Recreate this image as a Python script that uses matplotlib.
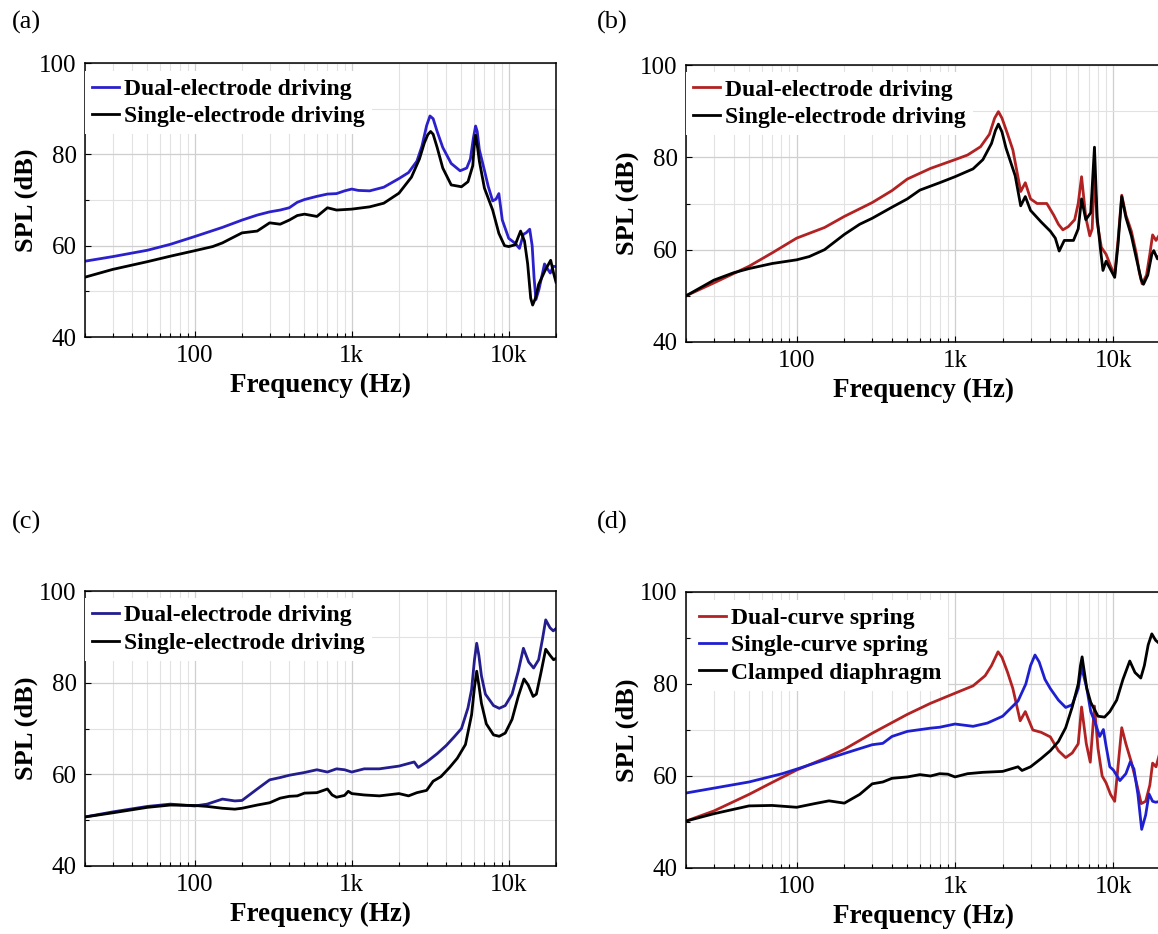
import matplotlib
matplotlib.use("Agg")
import matplotlib.pyplot as plt
from matplotlib.ticker import FixedLocator, NullFormatter

plt.rcParams['font.family'] = ['Liberation Serif', 'DejaVu Serif']

# x tick labels
freq_ticks = [100, 1000, 10000]
freq_labels = ["100", "1k", "10k"]
spl_ticks = [40, 60, 80, 100]

# ---- panel (a) ----
a_dual = [(20, 56.6), (30, 57.6), (50, 59.0), (70, 60.3), (100, 62.0), (150, 64.0),
          (200, 65.6), (250, 66.7), (300, 67.4), (350, 67.8), (400, 68.3), (450, 69.5),
          (500, 70.1), (600, 70.8), (700, 71.3), (800, 71.4), (900, 72.0), (1000, 72.4),
          (1100, 72.1), (1300, 72.0), (1600, 72.8), (2000, 74.7), (2300, 76.0), (2600, 78.5),
          (2800, 81.8), (3000, 86.3), (3150, 88.4), (3300, 87.8), (3500, 85.0), (3800, 81.5),
          (4300, 78.0), (4900, 76.4), (5400, 77.0), (5700, 79.0), (5950, 83.5), (6150, 86.2),
          (6300, 85.0), (6500, 81.0), (7000, 76.5), (7400, 73.0),
          (7900, 69.8), (8300, 70.2), (8650, 71.4), (9100, 65.6), (10000, 61.6), (11000, 60.5),
          (11700, 59.4), (12400, 62.5), (12900, 62.8), (13600, 63.6), (14100, 60.0), (14500, 53.0),
          (14900, 48.2), (15600, 50.5), (16900, 56.0), (17600, 55.0), (18400, 54.0), (19200, 55.5),
          (20000, 55.4)]
a_single = [(20, 53.1), (30, 54.8), (50, 56.5), (70, 57.7), (100, 58.9), (130, 59.8),
            (150, 60.6), (180, 62.0), (200, 62.8), (250, 63.2), (300, 65.0), (350, 64.7),
            (400, 65.6), (450, 66.6), (500, 66.9), (600, 66.4), (700, 68.3), (800, 67.8),
            (1000, 68.0), (1300, 68.5), (1600, 69.3), (2000, 71.5), (2400, 75.0), (2700, 79.0),
            (2900, 82.5), (3050, 84.3), (3180, 85.0), (3300, 84.4), (3500, 81.5), (3800, 77.0),
            (4300, 73.3), (5000, 72.9), (5500, 74.0), (5900, 77.5), (6050, 82.5), (6150, 84.2),
            (6300, 82.0), (6500, 78.5), (7000, 72.6), (7900, 67.8),
            (8650, 62.7), (9400, 60.0), (10000, 59.8), (11000, 60.2), (11900, 63.2), (12600, 61.0),
            (13200, 56.0), (13800, 48.5), (14200, 47.0), (14800, 48.5), (15500, 51.5),
            (17000, 54.5), (18500, 56.8), (19300, 54.0), (20000, 52.0)]

# ---- panel (b) ----
b_dual = [(20, 50.0), (30, 52.8), (50, 56.4), (70, 59.3), (100, 62.5), (150, 64.8),
          (200, 67.2), (300, 70.2), (400, 72.8), (500, 75.3), (700, 77.6), (1000, 79.5),
          (1200, 80.5), (1450, 82.3), (1650, 85.0), (1780, 88.5), (1880, 89.9), (1980, 88.5),
          (2150, 85.0), (2320, 81.6),
          (2600, 72.6), (2780, 74.5), (3000, 71.0), (3300, 70.0), (3800, 70.0), (4200, 67.5),
          (4500, 65.5), (4800, 64.3), (5200, 65.0), (5700, 66.5), (6000, 70.0), (6300, 75.8),
          (6700, 67.0), (7100, 63.0), (7350, 64.5), (7600, 76.9), (7900, 66.0), (8400, 60.5),
          (9000, 59.0), (9600, 56.5), (10200, 54.5), (10700, 62.0), (11300, 71.8), (12000, 67.5),
          (13000, 64.0), (14000, 59.0), (14600, 55.0), (15200, 52.6), (16200, 54.5),
          (17000, 59.0), (17700, 63.2), (18600, 62.0), (20000, 63.8)]
b_single = [(20, 50.0), (30, 53.4), (40, 55.0), (50, 55.9), (70, 57.0), (100, 57.8),
            (120, 58.5), (150, 60.0), (200, 63.3), (250, 65.5), (300, 66.8), (400, 69.2),
            (500, 71.0), (600, 72.9), (800, 74.5), (1000, 75.8), (1300, 77.5), (1500, 79.5),
            (1700, 83.0), (1800, 85.8), (1880, 87.2), (1980, 85.5), (2100, 82.0), (2400, 76.0),
            (2600, 69.5), (2780, 71.5),
            (3000, 68.5), (3500, 66.0), (4000, 64.0), (4300, 62.5), (4550, 59.7), (4900, 62.0),
            (5600, 62.0), (6000, 64.5), (6300, 71.0), (6700, 66.5), (7200, 68.0), (7600, 82.2),
            (7900, 67.0), (8300, 60.0), (8600, 55.5), (9000, 57.5), (9500, 56.0), (10200, 54.0),
            (10700, 61.0), (11300, 71.5), (12000, 67.0), (13000, 63.0), (14000, 58.0),
            (15000, 53.5), (15500, 52.5), (16500, 54.5), (17500, 59.0), (18000, 59.8),
            (19000, 58.0), (20000, 59.5)]

# ---- panel (c) ----
c_dual = [(20, 50.7), (30, 51.8), (50, 53.0), (70, 53.5), (100, 53.1), (120, 53.5),
          (150, 54.6), (180, 54.2), (200, 54.3), (250, 56.8), (300, 58.8), (350, 59.3),
          (400, 59.8), (500, 60.4), (600, 61.0), (700, 60.5), (800, 61.2), (900, 61.0),
          (1000, 60.5), (1200, 61.2), (1500, 61.2), (2000, 61.8), (2500, 62.7), (2650, 61.5),
          (3000, 62.7), (3500, 64.5), (4000, 66.3), (4500, 68.2), (5000, 70.0), (5500, 74.5),
          (5800, 78.5), (6050, 85.0), (6250, 88.6), (6450, 86.0), (6700, 81.5), (7100, 77.5),
          (8000, 75.0), (8700, 74.4),
          (9500, 75.0), (10500, 77.5), (11500, 82.5), (12400, 87.5), (13400, 84.5),
          (14400, 83.2), (15500, 85.0), (16400, 89.5), (17200, 93.7), (18300, 92.0),
          (19200, 91.3), (20000, 91.8)]
c_single = [(20, 50.7), (30, 51.6), (50, 52.8), (70, 53.3), (100, 53.2), (120, 53.0),
            (150, 52.6), (180, 52.4), (200, 52.6), (250, 53.3), (300, 53.8), (350, 54.8),
            (400, 55.2), (450, 55.3), (500, 55.9), (600, 56.0), (700, 56.8), (750, 55.5),
            (800, 55.0), (900, 55.4), (950, 56.3), (1000, 55.8), (1200, 55.5), (1500, 55.3),
            (2000, 55.8), (2300, 55.3), (2600, 56.0), (3000, 56.5), (3300, 58.5), (3700, 59.5),
            (4200, 61.5), (4700, 63.5), (5300, 66.5), (5800, 73.0), (6050, 79.0), (6250, 82.5),
            (6450, 79.5), (6700, 75.5),
            (7200, 71.0), (8000, 68.6), (8700, 68.3), (9500, 69.0), (10500, 72.0),
            (11500, 77.0), (12500, 80.8), (13300, 79.5), (14300, 77.0), (15000, 77.5),
            (16000, 82.0), (17200, 87.3), (18300, 86.0), (19300, 85.0), (20000, 85.3)]

# ---- panel (d) ----
d_dual_curve = [(20, 50.2), (30, 52.4), (50, 56.0), (70, 58.6), (100, 61.3), (150, 63.8),
                (200, 65.8), (300, 69.3), (500, 73.4), (700, 75.8), (1000, 78.0), (1300, 79.6),
                (1550, 81.8), (1700, 84.0), (1870, 87.0), (1980, 85.8), (2150, 82.5),
                (2320, 79.0), (2580, 72.0),
                (2780, 74.0), (3100, 70.0), (3500, 69.5), (4000, 68.5), (4500, 65.5),
                (5000, 64.0), (5500, 65.0), (6000, 67.0), (6300, 75.0), (6750, 67.0),
                (7150, 63.0), (7600, 75.2), (8000, 66.0), (8500, 60.0), (9000, 58.5),
                (9600, 56.0), (10200, 54.5), (10700, 62.0), (11300, 70.5), (12000, 67.0),
                (13000, 63.0), (14000, 58.5), (15000, 54.0), (16000, 54.5), (17000, 58.0),
                (17700, 62.8), (18600, 62.0), (20000, 66.0)]
d_single_curve = [(20, 56.3), (50, 58.7), (81, 60.5), (100, 61.5), (150, 63.5), (200, 64.9),
                  (300, 66.8), (350, 67.1), (400, 68.6), (500, 69.7), (700, 70.4), (800, 70.6),
                  (1000, 71.3), (1300, 70.8), (1600, 71.5), (2000, 73.0), (2500, 76.3),
                  (2800, 80.0), (3000, 84.0), (3200, 86.3), (3400, 84.8), (3700, 81.0),
                  (4000, 79.0), (4500, 76.5),
                  (5000, 74.9), (5500, 75.5), (6000, 79.0), (6300, 83.7), (6800, 79.0),
                  (7200, 74.0), (7600, 72.0), (8200, 68.6), (8650, 70.1), (9000, 66.5),
                  (9500, 62.0), (10000, 61.3), (11000, 59.0), (12000, 60.5), (12800, 63.1),
                  (13500, 61.5), (14300, 56.0), (15100, 48.4), (16000, 51.5), (16800, 56.1),
                  (17700, 54.5), (18500, 54.3), (20000, 54.5)]
d_clamped = [(20, 50.2), (30, 51.8), (50, 53.5), (70, 53.6), (100, 53.2), (130, 54.0),
             (160, 54.6), (200, 54.1), (250, 56.0), (300, 58.3), (350, 58.7), (400, 59.5),
             (500, 59.8), (600, 60.3), (700, 60.0), (800, 60.5), (900, 60.4), (1000, 59.8),
             (1200, 60.5), (1500, 60.8), (2000, 61.0), (2500, 62.0), (2650, 61.2),
             (3000, 62.0), (3500, 63.8), (4000, 65.5), (4500, 67.5), (5000, 70.5),
             (5500, 75.0), (6000, 80.0), (6200, 84.0), (6350, 85.9), (6500, 83.5),
             (6800, 79.0), (7200, 76.0),
             (8000, 73.0), (8800, 72.8), (9500, 74.0), (10500, 76.5), (11500, 81.0),
             (12700, 85.0), (13700, 82.5), (14900, 81.3), (15700, 84.0), (16600, 88.5),
             (17500, 90.9), (18500, 89.5), (20000, 88.5)]

BLUE_A = "#2b20cc"
NAVY_C = "#231d8e"
RED = "#b22222"
BLUE_D = "#1f1fd2"

W, H = 1158, 934
fig = plt.figure(figsize=(W / 100, H / 100), dpi=100)


def make_axes(x0, y0, x1, y1):
    # pixel box -> figure fraction
    return fig.add_axes([x0 / W, 1 - y1 / H, (x1 - x0) / W, (y1 - y0) / H])


def style(ax):
    ax.set_xscale("log")
    ax.set_xlim(20, 20000)
    ax.set_ylim(40, 100)
    ax.xaxis.set_major_locator(FixedLocator(freq_ticks))
    ax.set_xticklabels(freq_labels)
    minors = [m * 10 ** e for e in range(1, 5) for m in range(2, 10)]
    ax.xaxis.set_minor_locator(FixedLocator(minors))
    ax.xaxis.set_minor_formatter(NullFormatter())
    ax.yaxis.set_major_locator(FixedLocator(spl_ticks))
    ax.yaxis.set_minor_locator(FixedLocator([50, 70, 90]))
    ax.grid(True, which="major", color="#cfcfcf", lw=0.9)
    ax.grid(True, which="minor", color="#e2e2e2", lw=0.8)
    ax.set_axisbelow(True)
    ax.tick_params(which="both", direction="in", top=False, right=False,
                   labelsize=18, pad=6)
    ax.tick_params(which="major", length=4, width=0.8)
    ax.tick_params(which="minor", length=3, width=0.8)
    for s in ax.spines.values():
        s.set_linewidth(1.1)
    ax.set_xlabel("Frequency (Hz)", fontsize=19.5, fontweight="bold", labelpad=4)
    ax.set_ylabel("SPL (dB)", fontsize=19, fontweight="bold", labelpad=1)


def draw(ax, series, anchor):
    for pts, color, label in series:
        f, spl = zip(*pts)
        ax.plot(f, spl, color=color, lw=2.0, label=label)
    leg = ax.legend(loc="upper left", bbox_to_anchor=anchor, borderaxespad=0,
                    borderpad=0.3, handlelength=1.15, handletextpad=0.2,
                    labelspacing=0.25, frameon=True, fancybox=False,
                    prop={"weight": "bold", "size": 17})
    leg.get_frame().set_facecolor("white")
    leg.get_frame().set_edgecolor("none")
    leg.get_frame().set_alpha(1)


ax_a = make_axes(85, 63, 556, 337)
ax_b = make_axes(686, 65, 1161, 342)
ax_c = make_axes(85, 591, 556, 866)
ax_d = make_axes(686, 592, 1161, 868)
for ax in (ax_a, ax_b, ax_c, ax_d):
    style(ax)

draw(ax_a, [(a_dual, BLUE_A, "Dual-electrode driving"),
            (a_single, "black", "Single-electrode driving")], (0.0, 0.97))
draw(ax_b, [(b_dual, RED, "Dual-electrode driving"),
            (b_single, "black", "Single-electrode driving")], (0.0, 0.975))
draw(ax_c, [(c_dual, NAVY_C, "Dual-electrode driving"),
            (c_single, "black", "Single-electrode driving")], (0.0, 0.975))
draw(ax_d, [(d_dual_curve, RED, "Dual-curve spring"),
            (d_single_curve, BLUE_D, "Single-curve spring"),
            (d_clamped, "black", "Clamped diaphragm")], (0.012, 0.97))

for txt, x, y in [("(a)", 12, 22), ("(b)", 597, 22), ("(c)", 12, 522), ("(d)", 597, 522)]:
    fig.text(x / W, 1 - y / H, txt, fontsize=19, va="center", ha="left")

fig.savefig("out.png", dpi=100)
